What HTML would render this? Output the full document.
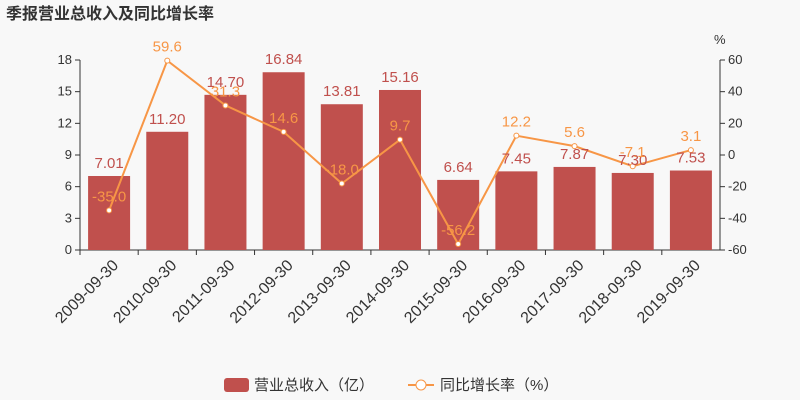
<!DOCTYPE html>
<html><head><meta charset="utf-8"><style>
body{margin:0;background:#f8f8f8;}
svg{display:block;font-family:"Liberation Sans","Noto Sans CJK SC",sans-serif;}
</style></head><body>
<svg id="c" width="800" height="400">
<text x="6" y="19" font-size="16" font-weight="bold" fill="#333">季报营业总收入及同比增长率</text>
<text x="714" y="44" font-size="13" fill="#333">%</text>
<g id="g"></g>
<g>
<rect x="224" y="378" width="25" height="14" rx="3" fill="#c0504d"/>
<text x="254" y="390" font-size="15" fill="#333">营业总收入（亿）</text>
<line x1="408" y1="385" x2="434" y2="385" stroke="#f79646" stroke-width="2"/>
<circle cx="421" cy="385" r="5" fill="#fff" stroke="#f79646"/>
<text x="440" y="390" font-size="15" fill="#333">同比增长率（%）</text>
</g>
</svg>
<script>
const categories=["2009-09-30","2010-09-30","2011-09-30","2012-09-30","2013-09-30","2014-09-30","2015-09-30","2016-09-30","2017-09-30","2018-09-30","2019-09-30"];
const revenue=[7.01,11.20,14.70,16.84,13.81,15.16,6.64,7.45,7.87,7.30,7.53];
const growth=[-35.0,59.6,31.3,14.6,-18.0,9.7,-56.2,12.2,5.6,-7.1,3.1];
const leftTicks=[0,3,6,9,12,15,18];
const rightTicks=[-60,-40,-20,0,20,40,60];
const X0=80,X1=720,Y0=250,Y1=60;
const bw=(X1-X0)/categories.length;
const xc=i=>X0+bw*(i+0.5);
const yl=v=>Y0-(v/18)*(Y0-Y1);
const yr=v=>Y0-((v+60)/120)*(Y0-Y1);
const g=document.getElementById('g');
const NS="http://www.w3.org/2000/svg";
function mk(t,a,txt){const e=document.createElementNS(NS,t);for(const k in a)e.setAttribute(k,a[k]);if(txt!=null)e.textContent=txt;g.appendChild(e);return e;}
let e;
e=mk('line',{x1:X0,y1:Y1,x2:X0,y2:Y0,stroke:'#333'});


e=mk('line',{x1:X1,y1:Y1,x2:X1,y2:Y0,stroke:'#333'});


e=mk('line',{x1:X0,y1:Y0,x2:X1,y2:Y0,stroke:'#333'});


leftTicks.forEach(v=>{
 mk('line',{x1:X0-5,y1:yl(v),x2:X0,y2:yl(v),stroke:'#333'});
 e=mk('text',{x:X0-8,y:yl(v)+4,'font-size':13,fill:'#333','text-anchor':'end'},v);
 
 
});
rightTicks.forEach(v=>{
 mk('line',{x1:X1,y1:yr(v),x2:X1+5,y2:yr(v),stroke:'#333'});
 e=mk('text',{x:X1+8,y:yr(v)+4,'font-size':13,fill:'#333'},v);
 
 
});
categories.forEach((c,i)=>{
 mk('line',{x1:X0+bw*i,y1:Y0,x2:X0+bw*i,y2:Y0+5,stroke:'#333'});
 const x=xc(i),y=Y0+12;
 e=mk('text',{x:x+6,y:y+6,'font-size':16,fill:'#333','text-anchor':'end',transform:`rotate(-45 ${x+6} ${y})`},c);
 
 
});
revenue.forEach((v,i)=>{
 e=mk('rect',{x:xc(i)-21,y:yl(v),width:42,height:Y0-yl(v),fill:'#c0504d'});
 
 
});
e=mk('polyline',{points:growth.map((v,i)=>xc(i)+','+yr(v)).join(' '),fill:'none',stroke:'#f79646','stroke-width':2});


growth.forEach((v,i)=>{
 e=mk('circle',{cx:xc(i),cy:yr(v),r:2.5,fill:'#fff',stroke:'#f79646'});
 
 
});
revenue.forEach((v,i)=>{
 e=mk('text',{x:xc(i),y:yl(v)-8,'font-size':15,fill:'#c0504d','text-anchor':'middle'},v.toFixed(2));
 
 
});
growth.forEach((v,i)=>{
 e=mk('text',{x:xc(i),y:yr(v)-9,'font-size':15,fill:'#f79646','text-anchor':'middle'},v.toFixed(1));
 
 
});
</script>
</body></html>
